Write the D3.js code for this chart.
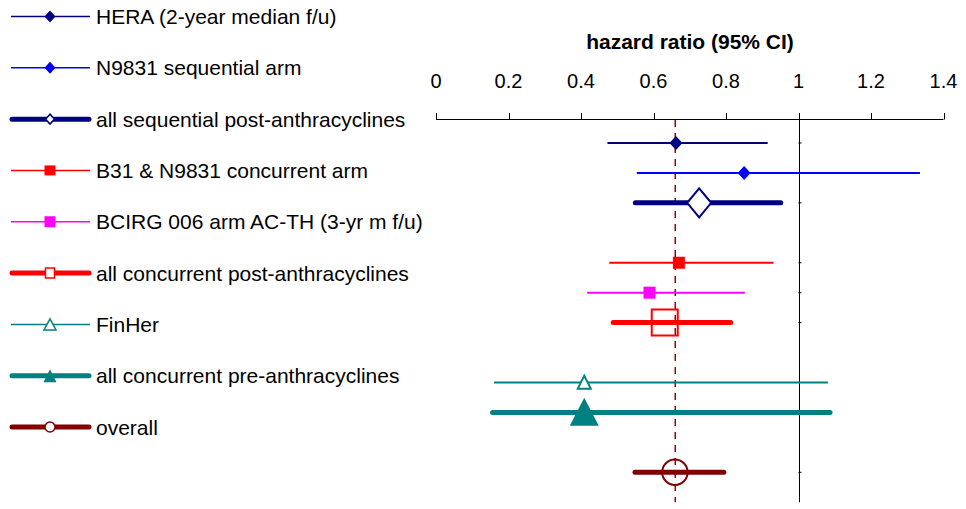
<!DOCTYPE html>
<html>
<head>
<meta charset="utf-8">
<script src="https://cdn.jsdelivr.net/npm/d3@7"></script>
<style>
  body { margin: 0; background: #fff; }
  svg { display: block; font-family: "Liberation Sans", Arial, sans-serif; }
</style>
</head>
<body>
<div id="vis"></div>
<script>
const studies = [
  "HERA (2-year median f/u)",
  "N9831 sequential arm",
  "all sequential post-anthracyclines",
  "B31 & N9831 concurrent arm",
  "BCIRG 006 arm AC-TH (3-yr m f/u)",
  "all concurrent post-anthracyclines",
  "FinHer",
  "all concurrent pre-anthracyclines",
  "overall"
];
const hr    = [0.662, 0.850, 0.726, 0.670, 0.589, 0.631, 0.409, 0.409, 0.659];
const lower = [0.473, 0.554, 0.550, 0.478, 0.417, 0.489, 0.160, 0.156, 0.549];
const upper = [0.915, 1.335, 0.951, 0.931, 0.852, 0.813, 1.081, 1.087, 0.794];
const rowIndex = [0, 1, 2, 4, 5, 6, 8, 9, 11];
const overallHR = 0.66;
const xTicks = [0, 0.2, 0.4, 0.6, 0.8, 1, 1.2, 1.4];
const xTickLabels = ["0", "0.2", "0.4", "0.6", "0.8", "1", "1.2", "1.4"];

// styles per series
const colors = ["#000080", "#0000ff", "#000080", "#ff0000", "#ff00ff", "#ff0000", "#008080", "#008080", "#800000"];
const pooled = [false, false, true, false, false, true, false, true, true];
const shapes = ["diamond", "diamond", "diamond", "square", "square", "square", "triangle", "triangle", "circle"];
const filled = [true, true, false, true, true, false, false, true, false];
// marker half-sizes [hw, hh] in the plot and in the legend
const plotSize = [[6.5, 7], [6.5, 7], [12, 14.5], [6, 6], [6, 6], [13, 13], [6.5, 6.5], [14.5, 14], [12.7, 12.7]];
const legSize = [[5.5, 6], [5.5, 6], [4.5, 5], [5.5, 5], [5.5, 5.5], [4.5, 5], [6, 5.5], [6.5, 6.5], [5, 5]];

const W = 966, H = 509;
const svg = d3.select("#vis").append("svg").attr("width", W).attr("height", H);

const x = d3.scaleLinear().domain([0, 1.4]).range([436, 943.5]);
const y = d3.scaleLinear().domain([0, 11]).range([143, 472.3]);
const axisY = 119;
const bottomY = y(12);

function markerPath(shape, cx, cy, hw, hh) {
  const p = d3.path();
  if (shape === "diamond") {
    p.moveTo(cx, cy - hh); p.lineTo(cx + hw, cy); p.lineTo(cx, cy + hh); p.lineTo(cx - hw, cy); p.closePath();
  } else if (shape === "square") {
    p.rect(cx - hw, cy - hh, hw * 2, hh * 2);
  } else if (shape === "triangle") {
    p.moveTo(cx, cy - hh); p.lineTo(cx + hw, cy + hh); p.lineTo(cx - hw, cy + hh); p.closePath();
  } else {
    p.arc(cx, cy, hw, 0, Math.PI * 2);
  }
  return p.toString();
}

// title
svg.append("text")
  .attr("x", 690).attr("y", 49)
  .attr("text-anchor", "middle")
  .attr("font-size", 21).attr("font-weight", "bold")
  .text("hazard ratio (95% CI)");

// x axis (top)
svg.append("line")
  .attr("x1", x(0)).attr("x2", x(1.4))
  .attr("y1", axisY + 0.5).attr("y2", axisY + 0.5)
  .attr("stroke", "#000");
svg.selectAll("line.xtick").data(xTicks).enter().append("line")
  .attr("class", "xtick")
  .attr("x1", d => Math.round(x(d)) + 0.5).attr("x2", d => Math.round(x(d)) + 0.5)
  .attr("y1", axisY - 6).attr("y2", axisY + 0.5)
  .attr("stroke", "#000");
svg.selectAll("text.xlab").data(xTicks).enter().append("text")
  .attr("class", "xlab")
  .attr("x", d => x(d)).attr("y", 88)
  .attr("text-anchor", "middle")
  .attr("font-size", 20)
  .text((d, i) => xTickLabels[i]);

// reference line at HR = 1
svg.append("line")
  .attr("x1", Math.round(x(1)) + 0.5).attr("x2", Math.round(x(1)) + 0.5)
  .attr("y1", axisY).attr("y2", bottomY)
  .attr("stroke", "#000");
svg.selectAll("line.ytick").data(rowIndex).enter().append("line")
  .attr("class", "ytick")
  .attr("x1", x(1)).attr("x2", x(1) + 3)
  .attr("y1", d => y(d)).attr("y2", d => y(d))
  .attr("stroke", "#000");

// dashed overall line
svg.append("line")
  .attr("x1", x(overallHR)).attr("x2", x(overallHR))
  .attr("y1", axisY + 1).attr("y2", bottomY)
  .attr("stroke", "#a00000").attr("stroke-width", 1.5)
  .attr("stroke-dasharray", "7,6");

// CI lines
const rows = studies.map((s, i) => ({ i, s, hr: hr[i], lo: lower[i], hi: upper[i], r: rowIndex[i] }));

svg.selectAll("line.ci").data(rows).enter().append("line")
  .attr("class", "ci")
  .attr("x1", d => x(d.lo)).attr("x2", d => x(d.hi))
  .attr("y1", d => y(d.r)).attr("y2", d => y(d.r))
  .attr("stroke", d => colors[d.i])
  .attr("stroke-width", d => pooled[d.i] ? 5 : 2)
  .attr("stroke-linecap", d => pooled[d.i] ? "round" : "butt");

svg.selectAll("path.mk").data(rows).enter().append("path")
  .attr("class", "mk")
  .attr("d", d => {
    const [hw, hh] = plotSize[d.i];
    const cy = shapes[d.i] === "triangle" ? y(d.r) - hh * 0.05 : y(d.r);
    return markerPath(shapes[d.i], x(d.hr), cy, hw, hh);
  })
  .attr("fill", d => filled[d.i] ? colors[d.i] : (shapes[d.i] === "diamond" || shapes[d.i] === "triangle" ? "#fff" : "none"))
  .attr("stroke", d => colors[d.i])
  .attr("stroke-width", d => filled[d.i] ? 0 : 2);

// legend
const ly = d3.scaleLinear().domain([0, 8]).range([16.5, 427]);
const leg = svg.selectAll("g.leg").data(rows).enter().append("g")
  .attr("class", "leg")
  .attr("transform", d => `translate(0, ${ly(d.i)})`);
leg.append("line")
  .attr("x1", d => pooled[d.i] ? 12 : 11).attr("x2", d => pooled[d.i] ? 89 : 90)
  .attr("y1", 0).attr("y2", 0)
  .attr("stroke", d => colors[d.i])
  .attr("stroke-width", d => pooled[d.i] ? 5 : 1.5)
  .attr("stroke-linecap", d => pooled[d.i] ? "round" : "butt");
leg.append("path")
  .attr("d", d => {
    const [hw, hh] = legSize[d.i];
    return markerPath(shapes[d.i], 50, 0, hw, hh);
  })
  .attr("fill", d => filled[d.i] ? colors[d.i] : "#fff")
  .attr("stroke", d => colors[d.i])
  .attr("stroke-width", d => filled[d.i] ? 0 : 1.5);
leg.append("text")
  .attr("x", 96).attr("y", 7.5)
  .attr("font-size", 21)
  .text(d => d.s);
</script>
</body>
</html>
